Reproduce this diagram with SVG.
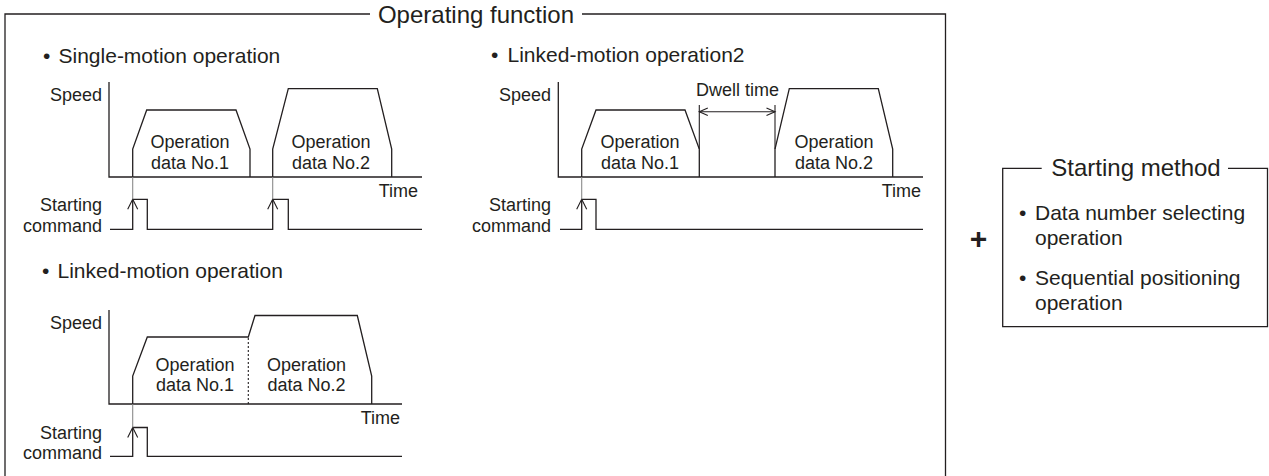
<svg xmlns="http://www.w3.org/2000/svg" width="1269" height="476" viewBox="0 0 1269 476">
<style>
text{font-family:"Liberation Sans",Arial,sans-serif;fill:#231f20}
.t{font-size:24px}
.b{font-size:21px}
.l{font-size:18px}
.r{text-anchor:end}
.m{text-anchor:middle}
.ln{fill:none;stroke:#231f20;stroke-width:1.3;stroke-linejoin:miter}
.thin{fill:none;stroke:#231f20;stroke-width:1.1}
.gl{fill:none;stroke:#8a8a8a;stroke-width:1.1}
.dot{fill:none;stroke:#231f20;stroke-width:1.1;stroke-dasharray:2 2}
</style>
<rect width="1269" height="476" fill="#fff"/>

<g id="operating-function-frame">
<polyline class="ln" points="370,14 5,14 5,480"/>
<polyline class="ln" points="582,14 945.5,14 945.5,480"/>
<text class="t m" x="476" y="23">Operating function</text>
</g>

<g id="single-motion">
<text class="b" y="63"><tspan x="43">•</tspan><tspan x="58.5">Single-motion operation</tspan></text>
<polyline class="ln" points="109,82 109,177 422,177"/>
<text class="l r" x="102" y="101">Speed</text>
<text class="l r" x="418" y="197">Time</text>
<polyline class="ln" points="132.7,177 132.7,149 146.7,110 236,110 250,149 250,177"/>
<polyline class="ln" points="272.7,177 272.7,149 288.3,88.7 377.3,88.7 391.7,149 391.7,177"/>
<text class="l m" x="190" y="148">Operation</text>
<text class="l m" x="190" y="169">data No.1</text>
<text class="l m" x="331" y="148">Operation</text>
<text class="l m" x="331" y="169">data No.2</text>
<text class="l r" x="102" y="211">Starting</text>
<text class="l r" x="102" y="232">command</text>
<polyline class="ln" points="110,229.3 132.7,229.3 132.7,199.3 147.3,199.3 147.3,229.3 272.7,229.3 272.7,199.3 288.3,199.3 288.3,229.3 422,229.3"/>
<polyline class="thin" points="127.7,209.3 132.7,199.3 137.7,209.3"/>
<polyline class="thin" points="267.7,209.3 272.7,199.3 277.7,209.3"/>
</g>

<g id="linked-motion-2">
<text class="b" y="62"><tspan x="491">•</tspan><tspan x="507.5">Linked-motion operation2</tspan></text>
<polyline class="ln" points="558.3,82 558.3,177 923,177"/>
<text class="l r" x="551" y="101">Speed</text>
<text class="l r" x="921" y="197">Time</text>
<polyline class="ln" points="581.7,177 581.7,149 596,110 685,110 699.3,149 699.3,177"/>
<polyline class="ln" points="775,177 775,149 789.3,88.7 878.3,88.7 892.7,149 892.7,177"/>
<text class="l m" x="640" y="148">Operation</text>
<text class="l m" x="640" y="169">data No.1</text>
<text class="l m" x="834" y="148">Operation</text>
<text class="l m" x="834" y="169">data No.2</text>
<text class="l m" x="737.5" y="96">Dwell time</text>
<text class="l r" x="551" y="211">Starting</text>
<text class="l r" x="551" y="232">command</text>
<polyline class="ln" points="560,229.3 581.7,229.3 581.7,199.3 596,199.3 596,229.3 923,229.3"/>
<polyline class="thin" points="576.7,209.3 581.7,199.3 586.7,209.3"/>
</g>

<g id="linked-motion">
<text class="b" y="278"><tspan x="42">•</tspan><tspan x="57.5">Linked-motion operation</tspan></text>
<polyline class="ln" points="109,310 109,404 402,404"/>
<text class="l r" x="102" y="329">Speed</text>
<text class="l r" x="400" y="424">Time</text>
<polyline class="ln" points="132.7,404 132.7,376 147.3,337 248.3,337 255,315.5 357.3,315.5 371.7,376 371.7,404"/>
<line class="dot" x1="248.3" y1="338" x2="248.3" y2="404"/>
<text class="l m" x="195" y="371">Operation</text>
<text class="l m" x="195" y="391">data No.1</text>
<text class="l m" x="306.5" y="371">Operation</text>
<text class="l m" x="306.5" y="391">data No.2</text>
<text class="l r" x="102" y="439">Starting</text>
<text class="l r" x="102" y="459">command</text>
<polyline class="ln" points="110,456.3 132.7,456.3 132.7,427.5 147.3,427.5 147.3,456.3 402,456.3"/>
<polyline class="thin" points="127.7,437.5 132.7,427.5 137.7,437.5"/>
</g>

<g id="plus">
<text x="978.5" y="249" text-anchor="middle" style="font-size:30px;font-weight:bold">+</text>
</g>

<g id="starting-method">
<polyline class="ln" points="1041.7,168.3 1002.7,168.3 1002.7,326.7 1267.5,326.7 1267.5,168.3 1228,168.3"/>
<text class="t m" x="1136" y="176">Starting method</text>
<text class="b" y="220"><tspan x="1019">•</tspan><tspan x="1035">Data number selecting</tspan></text>
<text class="b" x="1035" y="245">operation</text>
<text class="b" y="285"><tspan x="1019">•</tspan><tspan x="1035">Sequential positioning</tspan></text>
<text class="b" x="1035" y="310">operation</text>
</g>

<g id="connectors">
<line class="gl" x1="132.7" y1="177" x2="132.7" y2="199.3"/>
<line class="gl" x1="272.7" y1="177" x2="272.7" y2="199.3"/>
<line class="gl" x1="581.7" y1="177" x2="581.7" y2="199.3"/>
<line class="gl" x1="132.7" y1="404" x2="132.7" y2="427.5"/>
<line class="thin" x1="699.3" y1="105" x2="699.3" y2="149"/>
<line class="thin" x1="775" y1="105" x2="775" y2="149"/>
<line class="thin" x1="699.3" y1="111.7" x2="775" y2="111.7"/>
<polyline class="thin" points="707.8,108 699.3,111.7 707.8,115.4"/>
<polyline class="thin" points="766.5,108 775,111.7 766.5,115.4"/>
</g>
</svg>
